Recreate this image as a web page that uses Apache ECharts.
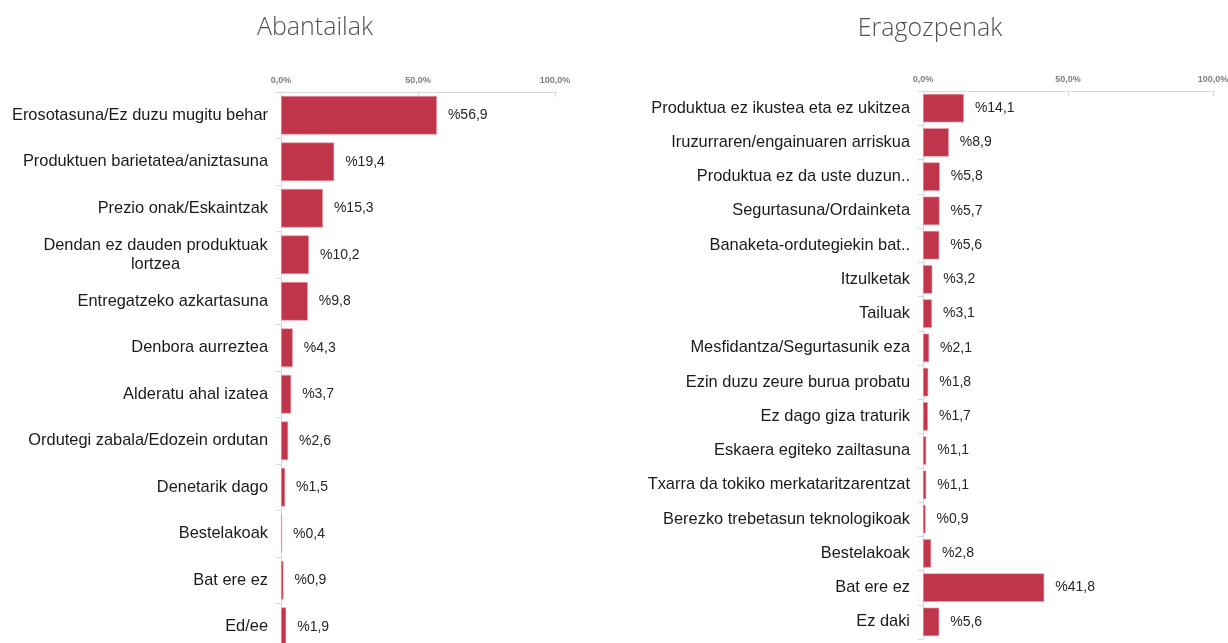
<!DOCTYPE html>
<html><head><meta charset="utf-8">
<script src="https://cdn.jsdelivr.net/npm/echarts@6/dist/echarts.min.js"></script>
<style>html,body{margin:0;padding:0;background:#fff;overflow:hidden}#c{width:1228px;height:643px}</style>
</head><body><div id="c"></div>
<script>
const leftTitle = 'Abantailak';
const rightTitle = 'Eragozpenak';
const leftCategories = ['Erosotasuna/Ez duzu mugitu behar','Produktuen barietatea/aniztasuna','Prezio onak/Eskaintzak','Dendan ez dauden produktuak\nlortzea','Entregatzeko azkartasuna','Denbora aurreztea','Alderatu ahal izatea','Ordutegi zabala/Edozein ordutan','Denetarik dago','Bestelakoak','Bat ere ez','Ed/ee'];
const leftValues = [56.9,19.4,15.3,10.2,9.8,4.3,3.7,2.6,1.5,0.4,0.9,1.9];
const rightCategories = ['Produktua ez ikustea eta ez ukitzea','Iruzurraren/engainuaren arriskua','Produktua ez da uste duzun..','Segurtasuna/Ordainketa','Banaketa-ordutegiekin bat..','Itzulketak','Tailuak','Mesfidantza/Segurtasunik eza','Ezin duzu zeure burua probatu','Ez dago giza traturik','Eskaera egiteko zailtasuna','Txarra da tokiko merkataritzarentzat','Berezko trebetasun teknologikoak','Bestelakoak','Bat ere ez','Ez daki'];
const rightValues = [14.1,8.9,5.8,5.7,5.6,3.2,3.1,2.1,1.8,1.7,1.1,1.1,0.9,2.8,41.8,5.6];
const tickValues = [0,50,100];

const chart = echarts.init(document.getElementById('c'));
const fmtPct = v => v.toFixed(1).replace('.', ',') + '%';
const fmtVal = v => '%' + v.toFixed(1).replace('.', ',');
const FONT = '"Liberation Sans", Arial, sans-serif';
const CAT_SIZE = 16.4;
const barColor = '#C1354B';

const mctx = document.createElement('canvas').getContext('2d');
mctx.font = CAT_SIZE + 'px ' + FONT;
function textW(s){ return Math.ceil(mctx.measureText(s).width); }

function xAx(gi){
  return {gridIndex: gi, type:'value', position:'top', min:0, max:100, interval:50,
    axisLine:{show:true, lineStyle:{color:'#d9d9d9', width:1}},
    axisTick:{show:true, inside:true, length:5, lineStyle:{color:'#d9d9d9'}},
    splitLine:{show:false},
    axisLabel:{formatter: fmtPct, fontSize:9, fontWeight:'bold', color:'#7f7f7f', fontFamily:FONT, margin:7}
  };
}
function yAx(gi, cats){
  let wrapW = 0;
  cats.forEach(c => { if (c.indexOf('\n') >= 0) c.split('\n').forEach(s => { wrapW = Math.max(wrapW, textW(s)); }); });
  return {gridIndex: gi, type:'category', data:cats, inverse:true,
    axisLine:{show:true, lineStyle:{color:'#d9d9d9'}},
    axisTick:{show:true, length:5, lineStyle:{color:'#d9d9d9'}},
    axisLabel:{fontSize:CAT_SIZE, color:'#1a1a1a', fontFamily:FONT, margin:13,
      formatter: function(v){
        if (v.indexOf('\n') >= 0) {
          return v.split('\n').map(s => '{c|' + s + '}').join('\n');
        }
        return v;
      },
      rich:{c:{width:wrapW || 100, align:'center', fontSize:CAT_SIZE, color:'#1a1a1a', fontFamily:FONT, lineHeight:19}}
    }
  };
}
function ser(gi, vals){
  return {type:'bar', xAxisIndex:gi, yAxisIndex:gi, data:vals, barCategoryGap:'17%',
    itemStyle:{color:barColor, borderColor:'#e8a3ad', borderWidth:0.6},
    label:{show:true, position:'right', distance:11, formatter: p => fmtVal(p.value),
      fontSize:14, color:'#262626', fontFamily:FONT},
    silent:true
  };
}

chart.setOption({
  animation:false,
  graphic:[
    {type:'text', x:315, y:28, style:{text:leftTitle, align:'center', verticalAlign:'middle', textAlign:'center', textVerticalAlign:'middle', fontSize:25, fontFamily:'"Open Sans", sans-serif', fontWeight:300, fill:'#505050'}},
    {type:'text', x:930, y:29, style:{text:rightTitle, align:'center', verticalAlign:'middle', textAlign:'center', textVerticalAlign:'middle', fontSize:25, fontFamily:'"Open Sans", sans-serif', fontWeight:300, fill:'#505050'}}
  ],
  grid:[
    {left:281, width:274, top:92, height:558, outerBoundsMode:'none', containLabel:false},
    {left:923, width:290, top:91, height:548, outerBoundsMode:'none', containLabel:false}
  ],
  xAxis:[xAx(0), xAx(1)],
  yAxis:[yAx(0, leftCategories), yAx(1, rightCategories)],
  series:[ser(0, leftValues), ser(1, rightValues)]
});
</script>
</body></html>
